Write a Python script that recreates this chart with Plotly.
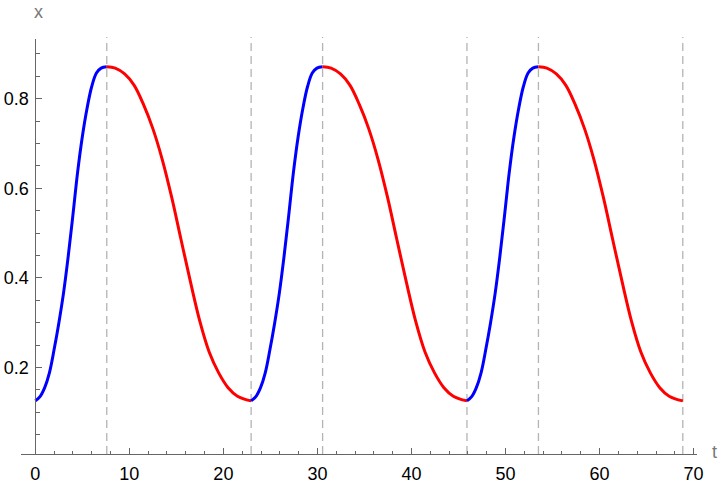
import plotly.graph_objects as go

# one cycle (t relative to cycle start, x value)
rise_t = [0.0, 0.5, 1.0, 1.5, 2.0, 2.5, 3.0, 3.5, 4.0, 4.5, 5.0, 5.5, 6.0, 6.5, 7.0, 7.6]
rise_x = [0.1255, 0.135, 0.155, 0.188, 0.240, 0.299, 0.366, 0.448, 0.540, 0.636, 0.715,
          0.778, 0.827, 0.857, 0.868, 0.871]
fall_t = [7.6, 8.5, 9.5, 10.5, 11.5, 12.5, 13.5, 14.5, 15.5, 16.5, 17.5, 18.5, 19.5, 20.5,
          21.5, 22.95]
fall_x = [0.871, 0.868, 0.855, 0.830, 0.787, 0.733, 0.664, 0.580, 0.485, 0.391, 0.303,
          0.234, 0.188, 0.155, 0.136, 0.1255]
cycle_starts = [0.0, 22.95, 45.9]
event_times = [7.6, 22.95, 30.55, 45.9, 53.5, 68.85]

fig = go.Figure()

for ev in event_times:
    fig.add_shape(type="line", xref="x", yref="paper", x0=ev, x1=ev, y0=0, y1=1.005,
                  line=dict(color="#b4b4b4", width=1.3, dash="8px,5px"), layer="below")

for c in cycle_starts:
    fig.add_trace(go.Scatter(x=[c + t for t in rise_t], y=rise_x, mode="lines",
                             line=dict(color="#0000ff", width=3, shape="spline", smoothing=1),
                             showlegend=False, hoverinfo="skip"))
    fig.add_trace(go.Scatter(x=[c + t for t in fall_t], y=fall_x, mode="lines",
                             line=dict(color="#ff0000", width=3, shape="spline", smoothing=1),
                             showlegend=False, hoverinfo="skip"))

axis_col = "#666666"
font = dict(family="Liberation Sans, Arial, sans-serif", size=18, color="black")

fig.update_layout(
    width=720, height=490,
    margin=dict(l=21, r=23, t=39, b=36, autoexpand=False),
    paper_bgcolor="white", plot_bgcolor="white",
    font=font,
    xaxis=dict(range=[-1.52, 70.36], domain=[0, 1], showgrid=False, zeroline=False,
               automargin=False,
               showline=True, linecolor=axis_col, linewidth=1,
               ticks="inside", ticklen=6, tickcolor=axis_col, tickwidth=1,
               tick0=0, dtick=10, tickfont=font, ticklabelstandoff=3,
               minor=dict(ticks="inside", ticklen=3.5, tickcolor=axis_col, dtick=2, tick0=0)),
    yaxis=dict(range=[0.007, 0.933], showgrid=False, zeroline=False,
               automargin=False,
               anchor="free", position=0.02115,
               showline=True, linecolor=axis_col, linewidth=1,
               ticks="inside", ticklen=6, tickcolor=axis_col, tickwidth=1,
               tick0=0, dtick=0.2, tickformat=".1f", tickfont=font, ticklabelstandoff=3,
               minor=dict(ticks="inside", ticklen=4, tickcolor=axis_col, dtick=0.05, tick0=0)),
    annotations=[
        dict(text="x", xref="paper", yref="paper", x=0.0253, y=1.0, yshift=27,
             showarrow=False, font=dict(family=font["family"], size=18, color="#777777"),
             xanchor="center", yanchor="middle"),
        dict(text="t", xref="paper", yref="paper", x=1.0, y=0, xshift=17, yshift=2,
             showarrow=False, font=dict(family=font["family"], size=18, color="#777777"),
             xanchor="center", yanchor="middle"),
    ],
)

fig.write_html("out.html", config={"displayModeBar": False},
               post_script="document.body.style.margin='0';")
